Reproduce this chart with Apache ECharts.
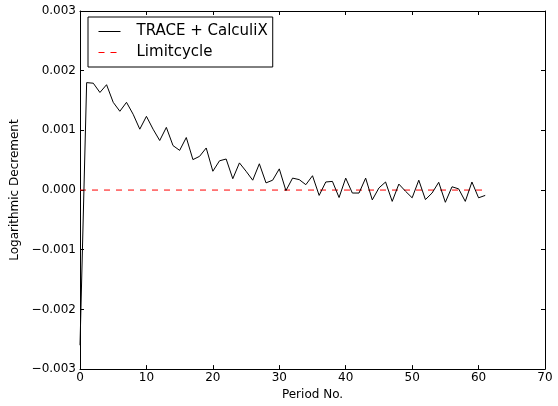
<!DOCTYPE html>
<html>
<head>
<meta charset="utf-8">
<script src="https://cdn.jsdelivr.net/npm/echarts@6/dist/echarts.min.js"></script>
<style>
html,body{margin:0;padding:0;background:#fff;}
#chart{width:558px;height:406px;}
</style>
</head>
<body>
<div id="chart"></div>
<script>
const periods = [0,1,2,3,4,5,6,7,8,9,10,11,12,13,14,15,16,17,18,19,20,21,22,23,24,25,26,27,28,29,30,31,32,33,34,35,36,37,38,39,40,41,42,43,44,45,46,47,48,49,50,51,52,53,54,55,56,57,58,59,60,61];
const traceCalculix = [-0.0026,0.00180,0.00179,0.001635,0.001765,0.00147,0.00132,0.00147,0.00127,0.00102,0.001235,0.00102,0.00083,0.00105,0.000745,0.000665,0.00088,0.00051,0.000565,0.000705,0.000315,0.00049,0.00052,0.00019,0.000455,0.000315,0.000165,0.00044,0.00012,0.000165,0.000355,-0.00001,0.00020,0.000175,0.00009,0.00024,-0.00009,0.000135,0.000145,-0.000125,0.00020,-0.00005,-0.00005,0.00020,-0.000165,0.000035,0.000135,-0.00019,0.00010,-0.00002,-0.00013,0.000165,-0.00016,-0.00005,0.00013,-0.000205,0.000055,0.00002,-0.00019,0.000135,-0.00013,-0.00009];
const limitX = [0, 61];
const limitY = [0, 0];
const xTicks = [0,10,20,30,40,50,60,70];
const yTicks = [-0.003,-0.002,-0.001,0,0.001,0.002,0.003];

const font = 'DejaVu Sans';
const fmtY = v => { const s = (Math.abs(v) < 1e-12 ? 0 : v).toFixed(3); return s.replace('-', '\u2212'); };

const chart = echarts.init(document.getElementById('chart'), null, {renderer: 'canvas'});
const grid = {left: 80, top: 11, width: 465, height: 359};
const tickCommon = {show: true, inside: true, length: 4, lineStyle: {color: '#000', width: 1}};
chart.setOption({
  animation: false,
  backgroundColor: '#fff',
  grid: grid,
  legend: {
    show: true,
    orient: 'vertical',
    left: 88, top: 17,
    backgroundColor: '#fff',
    borderColor: '#000', borderWidth: 1, borderRadius: 0,
    padding: [7, 5, 7, 10],
    itemWidth: 22, itemHeight: 10, itemGap: 6,
    itemStyle: {opacity: 0},
    lineStyle: {width: 1},
    textStyle: {fontFamily: font, fontSize: 15, color: '#000', padding: [0, 0, 0, 11]},
    data: [{name: 'TRACE + CalculiX'}, {name: 'Limitcycle'}]
  },
  xAxis: [{
    type: 'value', min: 0, max: 70, interval: 10,
    name: 'Period No.', nameLocation: 'middle', nameGap: 14,
    nameTextStyle: {fontFamily: font, fontSize: 12, color: '#000'},
    axisLine: {show: true, onZero: false, lineStyle: {color: '#000', width: 1}},
    axisTick: tickCommon,
    axisLabel: {fontFamily: font, fontSize: 12, color: '#000', margin: 3},
    splitLine: {show: false}
  }, {
    type: 'value', position: 'top', min: 0, max: 70, interval: 10,
    axisLine: {show: true, onZero: false, lineStyle: {color: '#000', width: 1}},
    axisTick: tickCommon, axisLabel: {show: false}, splitLine: {show: false}
  }],
  yAxis: [{
    type: 'value', min: -0.003, max: 0.003, interval: 0.001,
    name: 'Logarithmic Decrement', nameLocation: 'middle', nameGap: 45,
    nameTextStyle: {fontFamily: font, fontSize: 12, color: '#000'},
    axisLine: {show: true, onZero: false, lineStyle: {color: '#000', width: 1}},
    axisTick: tickCommon,
    axisLabel: {fontFamily: font, fontSize: 12, color: '#000', margin: 4, formatter: fmtY},
    splitLine: {show: false}
  }, {
    type: 'value', position: 'right', min: -0.003, max: 0.003, interval: 0.001,
    axisLine: {show: true, onZero: false, lineStyle: {color: '#000', width: 1}},
    axisTick: tickCommon, axisLabel: {show: false}, splitLine: {show: false}
  }],
  series: [{
    name: 'TRACE + CalculiX', type: 'line',
    data: periods.map((p, i) => [p, traceCalculix[i]]),
    symbol: 'none', showSymbol: false,
    lineStyle: {color: '#000', width: 1},
    itemStyle: {color: '#000'},
    z: 3
  }, {
    name: 'Limitcycle', type: 'line',
    data: limitX.map((p, i) => [p, limitY[i]]),
    symbol: 'none', showSymbol: false,
    lineStyle: {color: '#ff0000', width: 1, type: [6, 6]},
    itemStyle: {color: '#ff0000'},
    z: 2
  }]
});
</script>
</body>
</html>
